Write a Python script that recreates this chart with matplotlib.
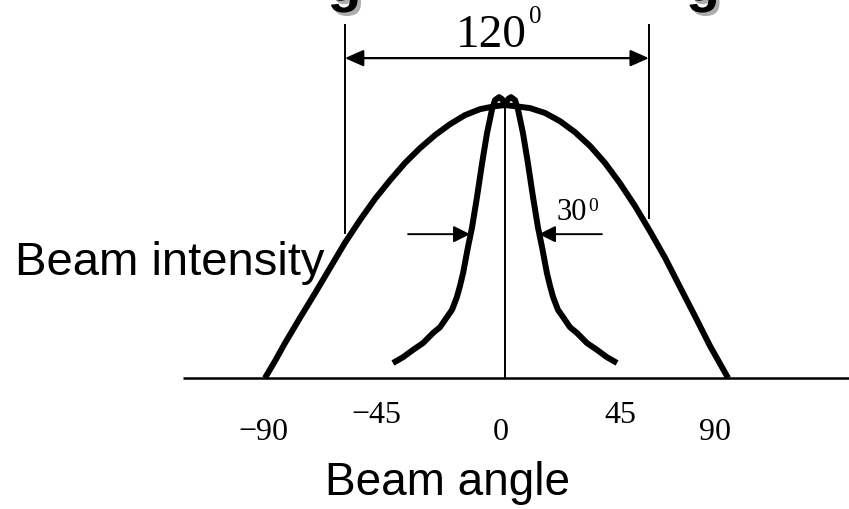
import matplotlib
matplotlib.use("Agg")
import matplotlib.pyplot as plt
from matplotlib.patches import FancyArrowPatch
import matplotlib.patheffects as pe

# ---- data (angle in degrees, relative intensity) ----
wide_angle = [-93.4, -89.5, -85.6, -79.8, -73.9, -68.1, -62.3, -56.4, -50.6, -44.7,
              -38.9, -33.1, -27.2, -21.4, -15.6, -9.7, -3.9, 0.0,
              3.9, 9.7, 15.6, 21.4, 27.2, 33.1, 38.9, 44.7, 50.6, 56.4,
              62.3, 68.1, 73.9, 79.8, 86.8]
wide_intensity = [0.000, 0.062, 0.128, 0.220, 0.311, 0.403, 0.495, 0.579, 0.656, 0.725,
                  0.788, 0.842, 0.890, 0.930, 0.963, 0.985, 0.996, 1.000,
                  0.996, 0.989, 0.971, 0.941, 0.901, 0.850, 0.788, 0.714, 0.630, 0.538,
                  0.440, 0.333, 0.227, 0.117, 0.000]

narrow_angle = [-43.6, -39.7, -35.8, -31.9, -28.0, -25.3, -22.6, -20.6, -18.7, -17.5,
                -16.3, -14.4, -12.8, -10.9, -8.9, -7.0, -5.1, -3.9, -2.3, -1.2, 0.0,
                1.2, 2.3, 3.9, 5.1, 7.0, 8.9, 10.9, 12.8, 14.4, 16.3,
                17.5, 18.7, 20.6, 22.6, 25.3, 28.0, 31.9, 35.8, 39.7, 43.6]
narrow_intensity = [0.055, 0.076, 0.103, 0.128, 0.165, 0.186, 0.223, 0.250, 0.297, 0.338,
                    0.385, 0.480, 0.553, 0.663, 0.788, 0.897, 0.982, 1.018, 1.029, 1.022, 1.004,
                    1.022, 1.029, 1.018, 0.982, 0.897, 0.788, 0.663, 0.553, 0.480, 0.385,
                    0.338, 0.297, 0.250, 0.223, 0.186, 0.165, 0.128, 0.103, 0.076, 0.055]

tick_labels = ["\u221290", "\u221245", "0", "45", "90"]
tick_label_x = [-94.2, -50.2, -1.6, 44.7, 81.7]
tick_label_y = [-0.227, -0.165, -0.227, -0.165, -0.227]

wide_label = "120"
narrow_label = "30"
xlabel = "Beam angle"
ylabel = "Beam intensity"

# ---- figure ----
fig = plt.figure(figsize=(8.49, 5.09), dpi=100)
ax = fig.add_axes([0, 0, 1, 1])
ax.set_xlim(-196.5, 133.85)
ax.set_ylim(-0.480, 1.385)
ax.axis("off")

# baseline axis and centre line
ax.plot([-125.3, 133.85], [0, 0], color="black", lw=1.8, solid_capstyle="butt")
ax.plot([0, 0], [0, 0.993], color="black", lw=1.4)

# curves
ax.plot(wide_angle, wide_intensity, color="black", lw=4.3,
        solid_capstyle="butt", solid_joinstyle="round")
ax.plot(narrow_angle, narrow_intensity, color="black", lw=4.3,
        solid_capstyle="butt", solid_joinstyle="round")

# 120 degree markers
ax.plot([-62.3, -62.3], [0.531, 1.293], color="black", lw=1.4)
ax.plot([56.0, 56.0], [0.586, 1.293], color="black", lw=1.4)
arr = FancyArrowPatch((-62.3, 1.172), (56.0, 1.172),
                      arrowstyle="<|-|>,head_length=0.45,head_width=0.2",
                      mutation_scale=25, color="black", lw=1.6,
                      shrinkA=0, shrinkB=0)
ax.add_patch(arr)
serif = "Liberation Serif"
ax.text(8.6, 1.212, wide_label, ha="right", va="baseline",
        fontsize=34, family=serif)
ax.text(9.4, 1.30, "0", ha="left", va="baseline", fontsize=18, family=serif)

# 30 degree arrows
for x0, x1 in [(-37.7, -13.6), (37.7, 13.2)]:
    a = FancyArrowPatch((x0, 0.527), (x1, 0.527),
                        arrowstyle="-|>,head_length=0.5,head_width=0.25",
                        mutation_scale=20, color="black", lw=1.4,
                        shrinkA=0, shrinkB=0)
    ax.add_patch(a)
ax.text(20.2, 0.579, narrow_label, ha="left", va="baseline",
        fontsize=22, family=serif)
ax.text(32.4, 0.612, "0", ha="left", va="baseline", fontsize=14, family=serif)

# tick labels
for lab, x, y in zip(tick_labels, tick_label_x, tick_label_y):
    ax.text(x, y, lab, ha="center", va="baseline", fontsize=23, family=serif)

# axis titles
sans = "Liberation Sans"
ax.text(-190.7, 0.377, ylabel, ha="left", va="baseline", fontsize=34, family=sans)
ax.text(-70.0, -0.429, xlabel, ha="left", va="baseline", fontsize=33, family=sans)

# cut-off title glyphs with shadow
for gx in [-62.5, 77.0]:
    ax.text(gx, 1.382, "g", ha="center", va="baseline", fontsize=40,
            family=sans, weight="bold", color="black",
            path_effects=[pe.withSimplePatchShadow(offset=(2.5, -2.5),
                                                   shadow_rgbFace="0.6",
                                                   alpha=0.8)])

fig.savefig("out.png", dpi=100)
